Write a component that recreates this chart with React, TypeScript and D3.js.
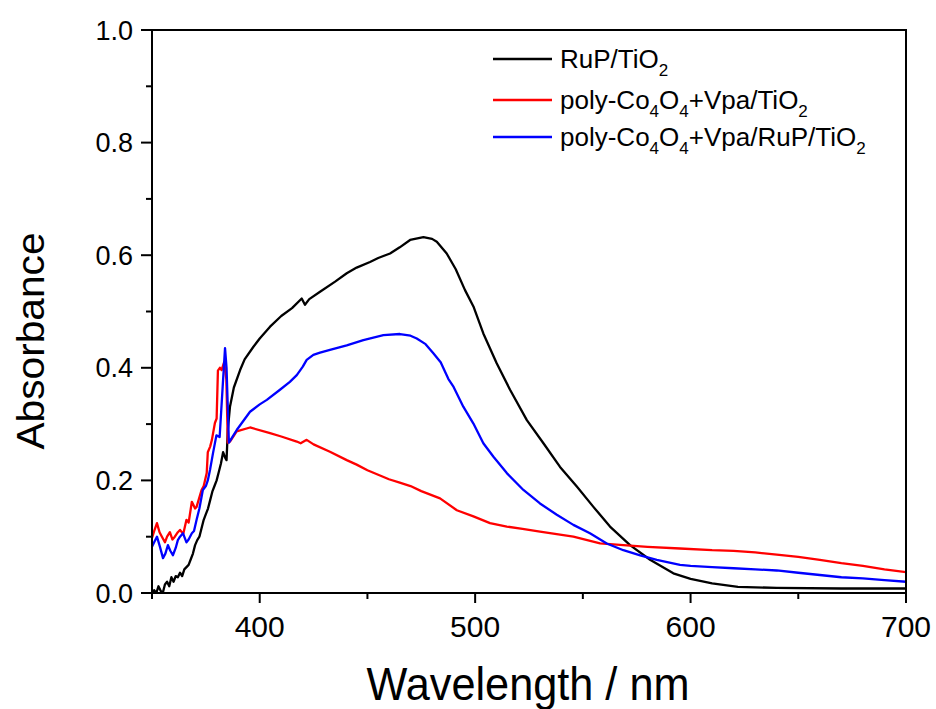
import React from "react";
import * as d3 from "d3";

const blackWl = [350,351,352,353,354,355,356,357,358,359,360,361,362,363,364,365,366,367,368,369,370,371,372,373,374,375,376,377,378,379,380,381,382,383,384,384.6,385.2,386.2,388,390.9,393,397,400,404.8,410,415,419.5,421,423,428,435,440.4,445,451.2,455,460.5,465,469.8,476,480,482.2,486.8,491,495.3,499.2,503.8,510,516.2,524,531.7,539.4,547.2,554.9,562.6,571.9,581.2,592,600,610,622,640,670,700];
const blackAbs = [0.0,0.005,0.0,0.012,0.004,0.0,0.015,0.02,0.012,0.028,0.02,0.03,0.028,0.036,0.03,0.042,0.046,0.05,0.06,0.07,0.085,0.094,0.1,0.115,0.13,0.14,0.15,0.165,0.18,0.19,0.2,0.215,0.23,0.25,0.24,0.236,0.29,0.331,0.365,0.396,0.415,0.437,0.452,0.473,0.492,0.506,0.523,0.512,0.522,0.535,0.553,0.568,0.578,0.588,0.595,0.603,0.614,0.627,0.632,0.629,0.624,0.603,0.575,0.538,0.509,0.461,0.408,0.361,0.307,0.266,0.224,0.189,0.153,0.118,0.085,0.059,0.035,0.025,0.017,0.011,0.009,0.008,0.008];

const redWl = [350,351,352.3,353.5,354.6,356,357,358.3,359.5,360.6,362,363,364.5,366,367,368.5,370,370.7,372,373,374,375.4,375.9,377,377.8,379.2,380,380.6,381.5,382.3,383.5,384.5,385.2,386.2,389.3,395.5,404.8,410,417.2,419,421.8,425,432.6,440.4,445,450,455,460,465,470,475,483.7,491.5,499.2,506.9,514.7,522,530.1,545.6,558,568.8,580,595.1,610,620,630,640,650,660,670,680,690,700];
const redAbs = [0.098,0.11,0.124,0.108,0.1,0.09,0.1,0.108,0.095,0.1,0.108,0.112,0.105,0.13,0.125,0.162,0.15,0.153,0.17,0.183,0.19,0.213,0.25,0.26,0.272,0.302,0.31,0.395,0.40,0.396,0.41,0.38,0.267,0.269,0.287,0.294,0.284,0.278,0.269,0.266,0.272,0.264,0.251,0.236,0.228,0.218,0.21,0.202,0.196,0.19,0.181,0.168,0.147,0.136,0.124,0.118,0.114,0.109,0.1,0.088,0.085,0.082,0.079,0.076,0.075,0.072,0.068,0.064,0.059,0.053,0.048,0.042,0.037];

const blueWl = [350,351,352.3,353.7,355.1,356.2,357.4,358.5,359.7,361,362,363,364.4,366,367,368.5,369.5,370.7,372,373.6,375,375.9,377,378.3,379.9,381.4,382.8,383.9,384.6,385.7,387,389.4,395.5,400,403.3,409.4,414,417.2,420,421.8,424.9,428,432.6,440.4,448.1,457.4,465.1,470,472.9,477,480.6,484,487.6,490,494.5,499.2,503.8,508.5,514.7,522.4,530.1,537.9,545.6,553.3,561.1,568.8,576.6,584.3,595.1,600,610,620,630,640,650,660,670,680,690,700];
const blueAbs = [0.082,0.09,0.1,0.082,0.062,0.07,0.085,0.075,0.067,0.08,0.094,0.1,0.106,0.09,0.095,0.106,0.11,0.13,0.15,0.183,0.19,0.2,0.22,0.248,0.28,0.277,0.366,0.435,0.40,0.267,0.275,0.29,0.322,0.335,0.343,0.361,0.375,0.387,0.402,0.414,0.423,0.427,0.432,0.44,0.449,0.458,0.46,0.457,0.452,0.442,0.426,0.41,0.38,0.366,0.331,0.301,0.266,0.242,0.213,0.183,0.159,0.139,0.121,0.106,0.088,0.076,0.067,0.059,0.05,0.048,0.046,0.044,0.042,0.04,0.036,0.032,0.028,0.026,0.023,0.02];

const xMajor = [400, 500, 600, 700];
const xMinor = [350, 450, 550, 650];
const yMajor = [0, 0.2, 0.4, 0.6, 0.8, 1.0];
const yMinor = [0.1, 0.3, 0.5, 0.7, 0.9];

const series = [
  { name: "RuP/TiO2", wl: blackWl, abs: blackAbs, color: "#000000" },
  { name: "poly-Co4O4+Vpa/TiO2", wl: redWl, abs: redAbs, color: "#ff0000" },
  { name: "poly-Co4O4+Vpa/RuP/TiO2", wl: blueWl, abs: blueAbs, color: "#0000ff" },
];

const L = 152, R = 906, T = 30, B = 593;
const FONT = "'Liberation Sans', Arial, sans-serif";

function LegendLabel({ name, x, y }: { name: string; x: number; y: number }) {
  const parts = name.split(/(\d)/).filter((p) => p.length > 0);
  const nodes: React.ReactNode[] = [];
  let sub = false;
  parts.forEach((p, i) => {
    const isDigit = /^\d$/.test(p);
    if (isDigit && !sub) {
      nodes.push(<tspan key={i} fontSize={17} dy={8}>{p}</tspan>);
      sub = true;
    } else if (!isDigit && sub) {
      nodes.push(<tspan key={i} fontSize={26} dy={-8}>{p}</tspan>);
      sub = false;
    } else {
      nodes.push(<tspan key={i} fontSize={isDigit ? 17 : 26}>{p}</tspan>);
    }
  });
  return (
    <text x={x} y={y} fontFamily={FONT} fontSize={26} fill="#000">
      {nodes}
    </text>
  );
}

export default function App() {
  const x = d3.scaleLinear().domain([350, 700]).range([L, R]);
  const y = d3.scaleLinear().domain([0, 1]).range([B, T]);
  const line = (wl: number[], abs: number[]) =>
    d3.line<number>().x((_, i) => x(wl[i])).y((v) => y(v))(abs) || "";

  return (
    <svg width={936} height={709} style={{ position: "absolute", left: 0, top: 0, background: "#fff" }}>
      <defs>
        <clipPath id="plotclip">
          <rect x={L} y={T} width={R - L} height={B - T} />
        </clipPath>
      </defs>
      <rect x={0} y={0} width={936} height={709} fill="#fff" />
      <g clipPath="url(#plotclip)">
        {series.map((s) => (
          <path key={s.name} d={line(s.wl, s.abs)} fill="none" stroke={s.color} strokeWidth={2.3} strokeLinejoin="round" />
        ))}
      </g>
      <rect x={L} y={T} width={R - L} height={B - T} fill="none" stroke="#000" strokeWidth={2} />
      {xMajor.map((v) => (
        <g key={"xM" + v}>
          <line x1={x(v)} x2={x(v)} y1={B} y2={B + 10} stroke="#000" strokeWidth={2} />
          <text x={x(v)} y={637} textAnchor="middle" fontFamily={FONT} fontSize={30}>{v}</text>
        </g>
      ))}
      {xMinor.map((v) => (
        <line key={"xm" + v} x1={x(v)} x2={x(v)} y1={B} y2={B + 6} stroke="#000" strokeWidth={2} />
      ))}
      {yMajor.map((v) => (
        <g key={"yM" + v}>
          <line x1={L - 11} x2={L} y1={y(v)} y2={y(v)} stroke="#000" strokeWidth={2} />
          <text x={133} y={y(v) + 9.5} textAnchor="end" fontFamily={FONT} fontSize={27}>{d3.format(".1f")(v)}</text>
        </g>
      ))}
      {yMinor.map((v) => (
        <line key={"ym" + v} x1={L - 6} x2={L} y1={y(v)} y2={y(v)} stroke="#000" strokeWidth={2} />
      ))}
      <text x={528} y={700} textAnchor="middle" fontFamily={FONT} fontSize={46} textLength={323} lengthAdjust="spacingAndGlyphs">Wavelength / nm</text>
      <text transform="translate(44,341) rotate(-90)" textAnchor="middle" fontFamily={FONT} fontSize={39} textLength={217} lengthAdjust="spacingAndGlyphs">Absorbance</text>
      {series.map((s, i) => {
        const ly = [59, 100, 137][i];
        return (
          <g key={"lg" + i}>
            <line x1={493} x2={552} y1={ly} y2={ly} stroke={s.color} strokeWidth={2.3} />
            <LegendLabel name={s.name} x={560} y={ly + 9} />
          </g>
        );
      })}
    </svg>
  );
}
